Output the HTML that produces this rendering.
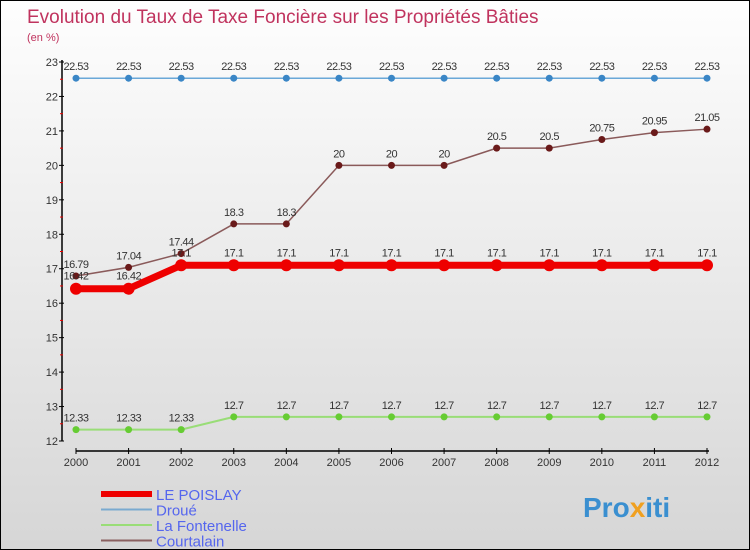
<!DOCTYPE html>
<html><head><meta charset="utf-8"><style>
body{margin:0}
#c{width:750px;height:550px;position:relative;overflow:hidden;box-sizing:border-box;border:1px solid #000;background:linear-gradient(#fefefe,#d6d6d6);font-family:"Liberation Sans","DejaVu Sans",sans-serif}
</style></head><body>
<div id="c">
<svg id="s" width="750" height="550" style="position:absolute;left:0;top:0">
<text x="26" y="22" font-size="19" fill="#c0335e">Evolution du Taux de Taxe Foncière sur les Propriétés Bâties</text>
<text x="26" y="40" font-size="11" fill="#c0335e">(en %)</text>
<g id="axes"></g><g id="series"></g><g id="legend"></g>
<text x="582" y="516" font-size="28" font-weight="bold" fill="#3a8fd0">Pro<tspan fill="#f0a020">x</tspan>iti</text>
</svg>
</div>
<script>
const years=[2000,2001,2002,2003,2004,2005,2006,2007,2008,2009,2010,2011,2012];
const yTicks=[12,13,14,15,16,17,18,19,20,21,22,23];
const poislay=[16.42,16.42,17.1,17.1,17.1,17.1,17.1,17.1,17.1,17.1,17.1,17.1,17.1];
const droue=[22.53,22.53,22.53,22.53,22.53,22.53,22.53,22.53,22.53,22.53,22.53,22.53,22.53];
const fontenelle=[12.33,12.33,12.33,12.7,12.7,12.7,12.7,12.7,12.7,12.7,12.7,12.7,12.7];
const courtalain=[16.79,17.04,17.44,18.3,18.3,20,20,20,20.5,20.5,20.75,20.95,21.05];
const ns="http://www.w3.org/2000/svg";
const X=i=>75+i*(631/12);
const Y=v=>440-(v-12)*(379/11);
function mk(tag,attrs,parent,txt){const e=document.createElementNS(ns,tag);for(const k in attrs)e.setAttribute(k,attrs[k]);if(txt!==undefined)e.textContent=txt;parent.appendChild(e);return e;}
const ax=document.getElementById('axes');
let e=mk('line',{x1:61,y1:Y(23)-2,x2:61,y2:Y(12),stroke:'#000','stroke-width':1.5},ax);

e=mk('line',{x1:X(0),y1:450,x2:X(12)+2,y2:450,stroke:'#000','stroke-width':1.5},ax);

yTicks.forEach(v=>{
  mk('line',{x1:58,y1:Y(v),x2:63,y2:Y(v),stroke:'#000'},ax);
  if(v<23)mk('line',{x1:59,y1:Y(v+0.5),x2:62,y2:Y(v+0.5),stroke:'#e00'},ax);
  const t=mk('text',{x:57,y:Y(v)+4,'font-size':11,fill:'#333','text-anchor':'end'},ax,v);
  
});
years.forEach((yr,i)=>{
  mk('line',{x1:X(i),y1:447,x2:X(i),y2:453,stroke:'#000'},ax);
  const t=mk('text',{x:X(i),y:465,'font-size':11,fill:'#333','text-anchor':'middle'},ax,yr);
  
});
const sg=document.getElementById('series');
function series(name,vals,color,w,r,dot,labelOff){
  const g=mk('g',{},sg);
  
  const p=mk('polyline',{points:vals.map((v,i)=>X(i)+','+Y(v)).join(' '),fill:'none',stroke:color,'stroke-width':w,'stroke-linejoin':'round'},g);
  
  vals.forEach((v,i)=>{
    const c=mk('circle',{cx:X(i),cy:Y(v),r:r,fill:dot},g);
    
    const t=mk('text',{x:X(i),y:Y(v)+labelOff,'font-size':11,fill:'#333','text-anchor':'middle','letter-spacing':'-0.5'},g,String(v));
    
  });
}
series('droue',droue,'#6aa8d8',1.5,3.5,'#3a86c6',-8);
series('fontenelle',fontenelle,'#99dd77',2,3.5,'#66cc33',-8);
series('courtalain',courtalain,'#8a5a5a',1.5,3.5,'#6a1a1a',-8);
series('le-poislay',poislay,'#ee0000',7,6,'#ee0000',-9);
const lg=document.getElementById('legend');
const leg=[['LE POISLAY','#ee0000',6],['Droué','#7aaad0',2],['La Fontenelle','#99dd77',2],['Courtalain','#8a6060',2]];
leg.forEach((l,i)=>{
  const y=493+i*15.5;
  const g=mk('g',{},lg);
  
  mk('line',{x1:100,y1:y,x2:151,y2:y,stroke:l[1],'stroke-width':l[2]},g);
  mk('text',{x:155,y:y+6,'font-size':15,fill:'#5566ee'},g,l[0]);
});
</script>
</body></html>
